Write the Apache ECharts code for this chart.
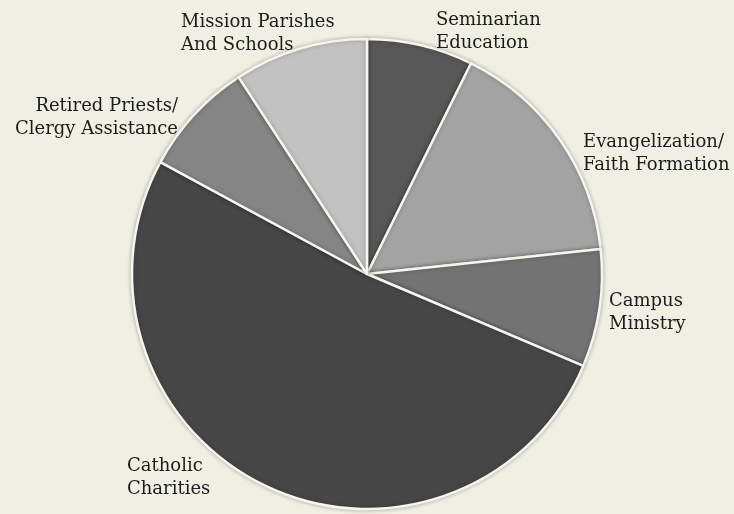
<!DOCTYPE html>
<html>
<head>
<meta charset="utf-8">
<script src="https://cdn.jsdelivr.net/npm/echarts@6/dist/echarts.min.js"></script>
<style>
  html, body { margin: 0; padding: 0; background: #efefe3; }
  #chart { width: 734px; height: 514px; }
</style>
</head>
<body>
<div id="chart"></div>
<script>
const categories = [
  "Seminarian\nEducation",
  "Evangelization/\nFaith Formation",
  "Campus\nMinistry",
  "Catholic\nCharities",
  "Retired Priests/\nClergy Assistance",
  "Mission Parishes\nAnd Schools"
];
const values = [7.3, 16.0, 8.1, 51.5, 7.9, 9.2];
const colors = ["#575757", "#a3a3a3", "#737373", "#464646", "#858585", "#c2c2c2"];

// label anchor placement (layout only)
const labelPlacement = [
  { x: 436, y: 32, align: "left" },
  { x: 583, y: 154, align: "left" },
  { x: 609, y: 313, align: "left" },
  { x: 127, y: 478, align: "left" },
  { x: 178, y: 118, align: "right" },
  { x: 181, y: 34, align: "left" }
];

const chart = echarts.init(document.getElementById("chart"), null, { renderer: "canvas" });
chart.setOption({
  backgroundColor: "#efefe3",
  animation: false,
  series: [{
    type: "pie",
    center: [367, 274],
    radius: 235,
    startAngle: 90,
    clockwise: true,
    avoidLabelOverlap: false,
    data: categories.map((c, i) => ({
      name: c,
      value: values[i],
      itemStyle: { color: colors[i] }
    })),
    itemStyle: {
      borderColor: "#f6f6ee",
      borderWidth: 2.5,
      shadowBlur: 4,
      shadowColor: "rgba(0,0,0,0.25)"
    },
    label: {
      show: true,
      position: "outside",
      formatter: "{b}",
      fontFamily: "DejaVu Serif",
      fontSize: 18,
      lineHeight: 23,
      color: "#1c1c1c",
      overflow: "none",
      width: 400
    },
    labelLine: { show: false },
    labelLayout: function (params) {
      const p = labelPlacement[params.dataIndex];
      return { x: p.x, y: p.y, align: p.align, verticalAlign: "middle" };
    },
    emphasis: { disabled: true }
  }]
});
</script>
</body>
</html>
